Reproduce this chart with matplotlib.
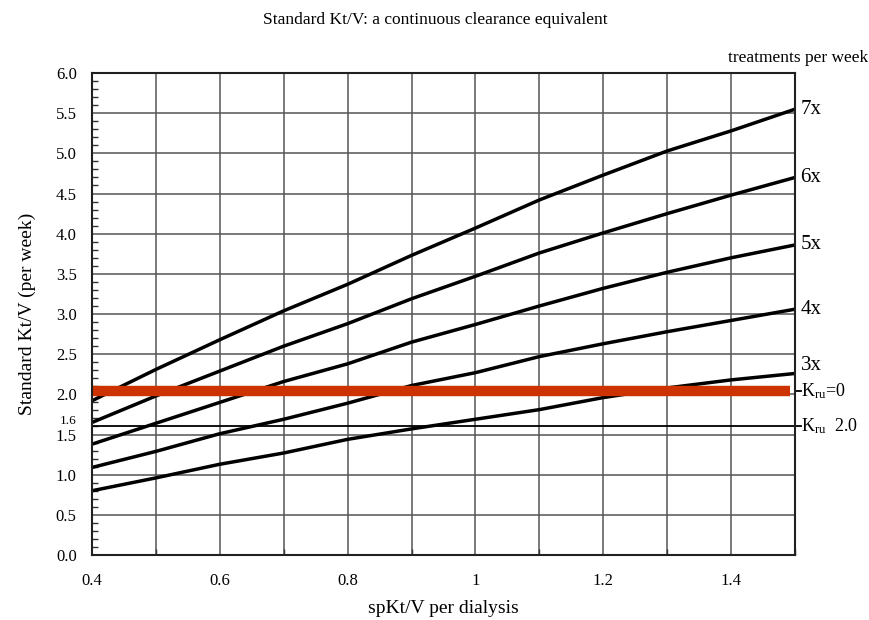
import matplotlib.pyplot as plt
from matplotlib.ticker import MultipleLocator, FixedLocator
import matplotlib.transforms as mtransforms

plt.rcParams['font.family'] = ['Liberation Serif', 'DejaVu Serif']
plt.rcParams['mathtext.fontset'] = 'custom'
plt.rcParams['mathtext.rm'] = 'Liberation Serif'

# spKt/V per dialysis session
sp_ktv = [0.4, 0.5, 0.6, 0.7, 0.8, 0.9, 1.0, 1.1, 1.2, 1.3, 1.4, 1.5]

# standard Kt/V for each treatment frequency
std_7x = [1.92, 2.31, 2.68, 3.04, 3.37, 3.73, 4.07, 4.42, 4.73, 5.03, 5.28, 5.55]
std_6x = [1.65, 1.98, 2.29, 2.60, 2.88, 3.19, 3.47, 3.76, 4.01, 4.25, 4.48, 4.70]
std_5x = [1.38, 1.64, 1.90, 2.16, 2.38, 2.65, 2.87, 3.10, 3.32, 3.52, 3.70, 3.86]
std_4x = [1.09, 1.29, 1.51, 1.69, 1.89, 2.11, 2.27, 2.47, 2.63, 2.78, 2.92, 3.06]
std_3x = [0.80, 0.96, 1.13, 1.27, 1.44, 1.57, 1.69, 1.81, 1.96, 2.08, 2.18, 2.26]

series = [std_7x, std_6x, std_5x, std_4x, std_3x]
freq_labels = ['7x', '6x', '5x', '4x', '3x']

# target levels
kru0_level = 2.04
kru2_level = 1.6

x_ticks = [0.4, 0.6, 0.8, 1.0, 1.2, 1.4]
x_tick_labels = ['0.4', '0.6', '0.8', '1', '1.2', '1.4']

fig = plt.figure(figsize=(8.7, 6.2), dpi=100)
ax = fig.add_axes([0.1057, 0.1048, 0.8081, 0.7774])

ax.set_xlim(0.4, 1.5)
ax.set_ylim(0.0, 6.0)

# grid: every 0.1 on x, every 0.5 on y
ax.xaxis.set_major_locator(FixedLocator(x_ticks))
ax.xaxis.set_minor_locator(MultipleLocator(0.1))
ax.yaxis.set_major_locator(MultipleLocator(0.5))
ax.yaxis.set_minor_locator(MultipleLocator(0.1))
ax.set_xticklabels(x_tick_labels)
ax.set_yticklabels([f'{v:.1f}' for v in ax.get_yticks()])
ax.grid(which='major', axis='y', color='#555555', lw=1.1)
ax.grid(which='minor', axis='x', color='#555555', lw=1.1)
ax.grid(which='major', axis='x', color='#555555', lw=1.1)
ax.set_axisbelow(True)
ax.tick_params(which='both', direction='in', labelsize=12, color='#333333')
ax.tick_params(axis='y', which='major', length=0, pad=11)
ax.tick_params(axis='x', which='major', length=0, pad=13)
ax.tick_params(which='minor', length=4, width=1)
for s in ax.spines.values():
    s.set_linewidth(1.5)
    s.set_color('#202020')

for ys in series:
    ax.plot(sp_ktv, ys, color='black', lw=2.5, solid_capstyle='butt')

ax.axhline(kru2_level, color='black', lw=1.3)
ax.axhline(kru0_level, xmax=0.993, color='#cc3300', lw=7.5, solid_capstyle='butt')

# right-hand labels
trans = mtransforms.blended_transform_factory(ax.transAxes, ax.transData)
for ys, lab in zip(series, freq_labels):
    dy = 6 if lab == '3x' else 0
    ax.annotate(lab, xy=(1.0, ys[-1]), xycoords=trans, xytext=(4, dy),
                textcoords='offset points', fontsize=15, va='center')
for lvl, lab in [(kru0_level, r'$\mathrm{K_{ru}}$=0'), (kru2_level, r'$\mathrm{K_{ru}}$  2.0')]:
    ax.plot([1.0, 1.008], [lvl, lvl], transform=trans, color='black', lw=1.3, clip_on=False)
    ax.annotate(lab, xy=(1.0, lvl), xycoords=trans, xytext=(4, 0),
                textcoords='offset points', fontsize=13, va='center')

# small extra label for 1.6 on the y axis
ax.annotate('1.6', xy=(0.0, 1.67), xycoords=trans, xytext=(-11, 0),
            textcoords='offset points', fontsize=9.5, ha='right', va='center')

ax.set_xlabel('spKt/V per dialysis', fontsize=14, labelpad=8)
ax.set_ylabel('Standard Kt/V (per week)', fontsize=14, labelpad=14)
fig.text(0.5, 0.968, 'Standard Kt/V: a continuous clearance equivalent',
         ha='center', va='center', fontsize=12.5)
fig.text(0.998, 0.907, 'treatments per week', ha='right', va='center', fontsize=12.5)

fig.savefig('out.png', dpi=100, facecolor='white')
